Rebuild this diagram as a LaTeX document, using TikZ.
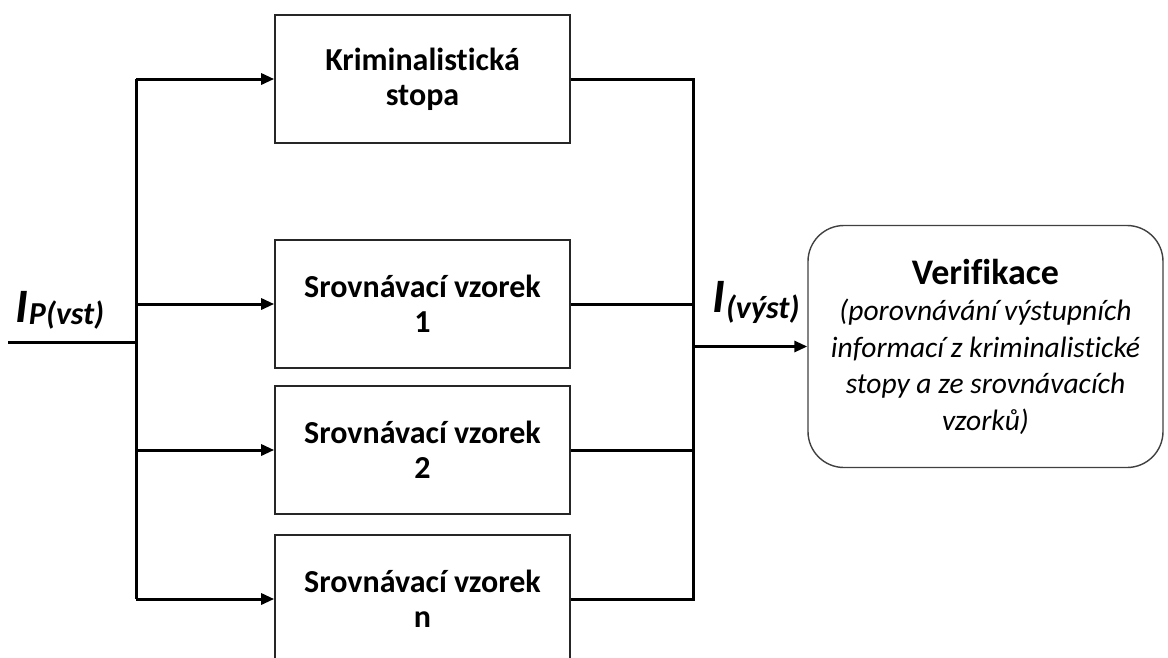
\documentclass[tikz,border=0pt]{standalone}
\usepackage{fontspec}
\setmainfont{Carlito}[Ligatures=NoCommon]
\usetikzlibrary{arrows.meta, positioning}

% big italic I with a lowered index
\newcommand{\infolabel}[3]{{\bfseries\itshape\fontsize{48}{48}\selectfont #1\kern1pt\lower#3\hbox{\fontsize{32}{32}\selectfont #2}}}

\begin{document}
\begin{tikzpicture}[x=1pt, y=-1pt,
    box/.style={draw=black!85, line width=1.6pt, minimum width=295pt,
      minimum height=128pt, inner sep=0pt, align=center,
      font=\fontsize{32}{35}\selectfont\bfseries},
    wire/.style={line width=3pt},
    feed/.style={wire, -{Triangle[length=13pt, width=11pt]}}]
  \useasboundingbox (0,0) rectangle (1168,657);
  \coordinate (lbus) at (136,0);
  \coordinate (rbus) at (693,0);
  \coordinate (in) at (8,342);
  % Trace and comparison samples
  \node[box] (trace) at (422.5,79) {Kriminalistická\\stopa};
  \node[box] (s1) at (422.5,304) {Srovnávací vzorek\\1};
  \node[box] (s2) at (422.5,450) {Srovnávací vzorek\\2};
  \node[box] (sn) at (422.5,599) {Srovnávací vzorek\\n};
  % Verification block
  \node[draw=black!75, line width=1.4pt, rounded corners=36pt,
    minimum width=355pt, minimum height=242pt, inner sep=0pt, align=center,
    font=\fontsize{29.5}{36.5}\selectfont\itshape] (verif) at (985.5,346.5)
    {{\upshape\bfseries\fontsize{36}{36.5}\selectfont Verifikace}\\
     (porovnávání výstupních\\informací z kriminalistické\\
     stopy a ze srovnávacích\\vzorků)};
  % Input bus
  \draw[wire] (in) -- (in -| lbus);
  \draw[wire] (lbus |- trace.west) -- (lbus |- sn.west);
  \foreach \b in {trace, s1, s2, sn}
    \draw[feed] (lbus |- \b.west) -- (\b.west);
  % Output bus
  \draw[wire] (trace.east) -- (trace.east -| rbus) -- (sn.east -| rbus) -- (sn.east);
  \foreach \b in {s1, s2}
    \draw[wire] (\b.east) -- (\b.east -| rbus);
  \draw[feed] (verif.west -| rbus) -- (verif.west);
  \node[anchor=base west, inner sep=0pt] (iin) at (15,322) {\infolabel{I}{P(vst)}{2pt}};
  \node[anchor=base west, inner sep=0pt] (iout) at (712,312) {\infolabel{I}{(výst)}{6pt}};
\end{tikzpicture}
\end{document}
